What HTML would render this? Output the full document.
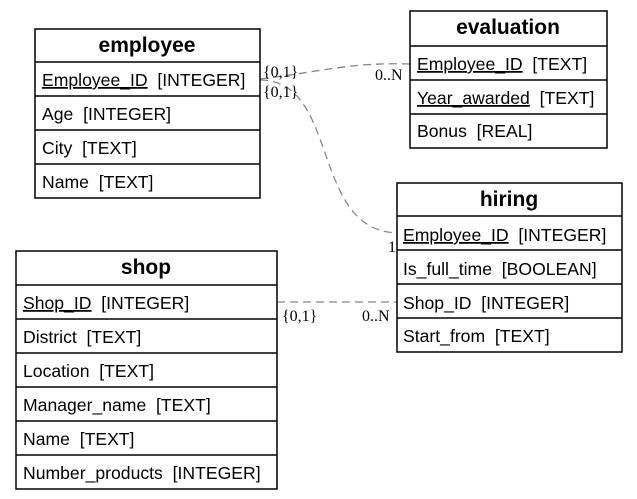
<!DOCTYPE html>
<html><head><style>
html,body{margin:0;padding:0;background:#fff;}
svg{display:block;}
text{font-family:"Liberation Sans",sans-serif;font-size:17.6px;fill:#000;white-space:pre;}
.t{font-weight:bold;font-size:21px;text-anchor:middle;}
.c{font-family:"Liberation Serif",serif;font-size:16px;}
rect,line.b{fill:none;stroke:#000;stroke-width:1.5;}
.d{fill:none;stroke:#888;stroke-width:1.3;stroke-dasharray:8,5;}
</style></head><body>
<svg width="637" height="499" viewBox="0 0 637 499" xml:space="preserve">
<path class="d" d="M260 79 C320 72 350 62 410 64"/>
<path class="d" d="M260 80 C340 80 310 230 397 233"/>
<path class="d" d="M277 302 L397 302"/>
<text class="c" x="263" y="77">{0,1}</text>
<text class="c" x="263" y="97">{0,1}</text>
<text class="c" x="375" y="80">0..N</text>
<text class="c" x="388" y="252">1</text>
<text class="c" x="282" y="321">{0,1}</text>
<text class="c" x="362" y="321">0..N</text>

<rect x="35" y="29" width="225" height="169"/>
<line class="b" x1="35" y1="62" x2="260" y2="62"/>
<line class="b" x1="35" y1="96" x2="260" y2="96"/>
<line class="b" x1="35" y1="130" x2="260" y2="130"/>
<line class="b" x1="35" y1="164" x2="260" y2="164"/>
<text class="t" x="147" y="52">employee</text>
<text x="42" y="86"><tspan text-decoration="underline">Employee_ID</tspan>  [INTEGER]</text>
<text x="42" y="120">Age  [INTEGER]</text>
<text x="42" y="154">City  [TEXT]</text>
<text x="42" y="188">Name  [TEXT]</text>

<rect x="410" y="11" width="197" height="137"/>
<line class="b" x1="410" y1="46" x2="607" y2="46"/>
<line class="b" x1="410" y1="80" x2="607" y2="80"/>
<line class="b" x1="410" y1="114" x2="607" y2="114"/>
<text class="t" x="508" y="34">evaluation</text>
<text x="417" y="70"><tspan text-decoration="underline">Employee_ID</tspan>  [TEXT]</text>
<text x="417" y="104"><tspan text-decoration="underline">Year_awarded</tspan>  [TEXT]</text>
<text x="417" y="137">Bonus  [REAL]</text>

<rect x="397" y="183" width="225" height="169"/>
<line class="b" x1="397" y1="216" x2="622" y2="216"/>
<line class="b" x1="397" y1="250" x2="622" y2="250"/>
<line class="b" x1="397" y1="284" x2="622" y2="284"/>
<line class="b" x1="397" y1="318" x2="622" y2="318"/>
<text class="t" x="509" y="206">hiring</text>
<text x="403" y="241"><tspan text-decoration="underline">Employee_ID</tspan>  [INTEGER]</text>
<text x="403" y="275">Is_full_time  [BOOLEAN]</text>
<text x="403" y="309">Shop_ID  [INTEGER]</text>
<text x="403" y="342">Start_from  [TEXT]</text>

<rect x="16" y="251" width="261" height="238"/>
<line class="b" x1="16" y1="285" x2="277" y2="285"/>
<line class="b" x1="16" y1="319" x2="277" y2="319"/>
<line class="b" x1="16" y1="353" x2="277" y2="353"/>
<line class="b" x1="16" y1="387" x2="277" y2="387"/>
<line class="b" x1="16" y1="421" x2="277" y2="421"/>
<line class="b" x1="16" y1="455" x2="277" y2="455"/>
<text class="t" x="146" y="274">shop</text>
<text x="23" y="309"><tspan text-decoration="underline">Shop_ID</tspan>  [INTEGER]</text>
<text x="23" y="343">District  [TEXT]</text>
<text x="23" y="377">Location  [TEXT]</text>
<text x="23" y="411">Manager_name  [TEXT]</text>
<text x="23" y="445">Name  [TEXT]</text>
<text x="23" y="479">Number_products  [INTEGER]</text>
</svg>
</body></html>
